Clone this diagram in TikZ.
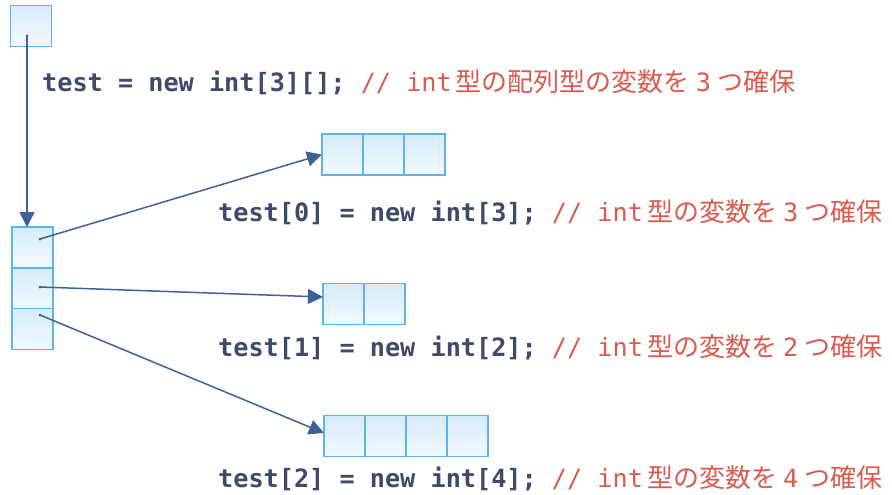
\documentclass[tikz,border=0pt]{standalone}
\usepackage{fontspec}
\setmonofont{DejaVu Sans Mono}
\newfontfamily\cjk{Noto Sans CJK JP}
\usetikzlibrary{arrows.meta,calc,positioning}
\definecolor{cellline}{HTML}{5AB6EA}
\definecolor{celltop}{HTML}{D6ECF9}
\definecolor{cellbot}{HTML}{F2F9FE}
\definecolor{arrowc}{HTML}{3D6396}
\definecolor{codec}{HTML}{3E4B68}
\definecolor{cmtc}{HTML}{DA5A4E}
\tikzset{
  cell/.style={draw=cellline, line width=1.4pt, top color=celltop, bottom color=cellbot,
    minimum width=41pt, minimum height=41pt, inner sep=0pt, outer sep=0pt},
  ref/.style={draw=arrowc, line width=1.5pt, -{Triangle[length=15pt,width=15pt]}},
  dot/.style={fill=arrowc, circle, inner sep=0pt, minimum size=3pt},
  code/.style={anchor=base west, inner sep=0pt, font=\ttfamily\bfseries\fontsize{25.2}{27}\selectfont, text=codec},
}
\newcommand{\cmt}[3]{{\color{cmtc}\mdseries\ttfamily //~int}\hspace{4pt}{\color{cmtc}\mdseries\cjk\fontsize{26}{28}\selectfont #1}\hspace{6pt}{\color{cmtc}\mdseries\ttfamily #2}\hspace{6pt}{\color{cmtc}\mdseries\cjk\fontsize{26}{28}\selectfont #3}}
\begin{document}
\begin{tikzpicture}[x=1pt,y=-1pt]
\useasboundingbox (0,0) rectangle (892,495);
% top variable
\node[cell] (top) at (31,26) {};
% column of references
\node[cell] (l0) at (32.5,247.5) {};
\node[cell] (l1) at (32.5,288.5) {};
\node[cell] (l2) at (32.5,329) {};
% arrays
\node[cell] (a0) at (342.5,154.5) {};
\node[cell, anchor=west] (a1) at (a0.east) {};
\node[cell, anchor=west] (a2) at (a1.east) {};
\node[cell] (b0) at (343.5,304) {};
\node[cell, anchor=west] (b1) at (b0.east) {};
\node[cell] (c0) at (344.5,436) {};
\node[cell, anchor=west] (c1) at (c0.east) {};
\node[cell, anchor=west] (c2) at (c1.east) {};
\node[cell, anchor=west] (c3) at (c2.east) {};
% reference start points
\coordinate (st) at (27,36);
\coordinate (s0) at (40,239);
\coordinate (s1) at (40,287);
\coordinate (s2) at (40,315);
\coordinate (tl) at ($(l0.north west)+(15,0)$);
\coordinate (tb) at ($(b0.west)+(0,-7)$);
\coordinate (tc) at ($(c0.west)+(0,-3)$);
\node[dot] at (st) {};
\node[dot] at (s0) {};
\node[dot] at (s1) {};
\node[dot] at (s2) {};
\draw[ref] (st) -- (tl);
\draw[ref] (s0) -- (a0.west);
\draw[ref] (s1) -- (tb);
\draw[ref] (s2) -- (tc);
% texts
\node[code] (t0) at (42,92) {test = new int[3][];~\cmt{型の配列型の変数を}{3}{つ確保}};
\node[code] (t1) at (218,221) {test[0] = new int[3];~\cmt{型の変数を}{3}{つ確保}};
\node[code] (t2) at (218,356) {test[1] = new int[2];~\cmt{型の変数を}{2}{つ確保}};
\node[code] (t3) at (218,487) {test[2] = new int[4];~\cmt{型の変数を}{4}{つ確保}};
\end{tikzpicture}
\end{document}
